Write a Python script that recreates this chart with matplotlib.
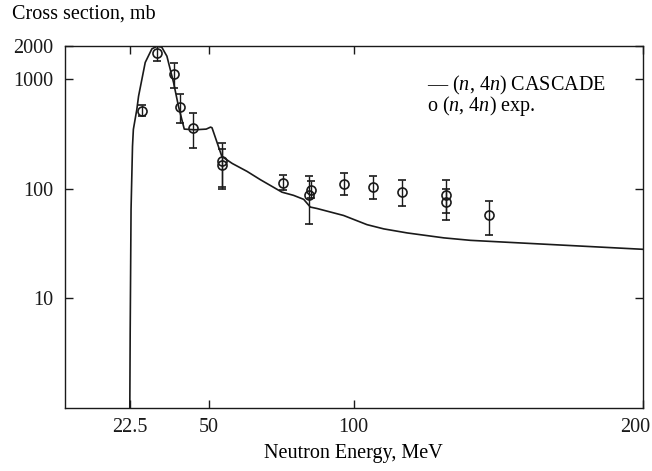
import matplotlib
matplotlib.use("Agg")
import matplotlib.pyplot as plt
import matplotlib.transforms as mtransforms
import numpy as np

# CASCADE calculation (n,4n)
curve_e = [22.55, 22.7, 23.0, 23.5, 23.8, 25.0, 25.6, 27.9, 30.2, 31.9, 33.6, 35.4, 37.7,
           39.4, 41.4, 45.0, 49.0, 50.5, 51.0, 54.4, 58.0, 63.1, 67.7, 75.2, 79.2, 82.7,
           85.0, 87.3, 96.5, 104.6, 110.4, 118.5, 131.2, 140.4, 150.8, 175.0, 200.0]
curve_v = [0.8, 5.0, 65, 244, 348, 530, 700, 1420, 1890, 1990, 1960, 1620, 930,
           565, 350, 345, 350, 365, 360, 197, 170, 144, 121, 93, 87, 80,
           68, 66, 57, 47, 43, 39.5, 35.6, 33.8, 32.7, 30.3, 28.0]

# experimental (n,4n)
exp_e = [26.7, 31.9, 37.7, 39.8, 44.4, 54.4, 54.4, 75.4, 84.4, 85.4, 96.5, 106.7,
         116.8, 131.8, 131.8, 146.7]
exp_v = [511, 1722, 1107, 556, 357, 180, 165, 113, 88.5, 98, 111, 103, 94, 88, 76, 57]
exp_lo = [458, 1455, 836, 400, 233, 103, 100, 97, 48, 83, 87, 81, 69, 60, 52, 38]
exp_hi = [577, 1990, 1415, 726, 494, 263, 230, 134, 130, 117, 140, 130, 121, 119, 100, 77]

x_ticks = [22.5, 50, 100, 200]
x_tick_labels = ["22.5", "50", "100", "200"]
y_ticks = [10, 100, 1000, 2000]
y_tick_labels = ["10", "100", "1000", "2000"]

plt.rcParams['font.family'] = ['Liberation Serif', 'DejaVu Serif']
plt.rcParams['mathtext.fontset'] = 'custom'
plt.rcParams['mathtext.it'] = 'Liberation Serif:italic'
plt.rcParams['mathtext.rm'] = 'Liberation Serif'

FS = 14.5
ink = '#1a1a1a'

fig = plt.figure(figsize=(6.52, 4.71), dpi=100)
ax = fig.add_axes([0.099, 0.134, 0.887, 0.768])

ax.plot(curve_e, curve_v, color=ink, lw=1.2)
v = np.array(exp_v)
yerr = [v - np.array(exp_lo), np.array(exp_hi) - v]
ax.errorbar(exp_e, exp_v, yerr=yerr, fmt='o', mfc='none', mec=ink,
            ms=6.5, mew=1.2, ecolor=ink, elinewidth=1.0, capsize=3, capthick=1.0)

ax.set_yscale('log')
ax.set_xlim(0, 200)
ax.set_ylim(1, 2000)
ax.set_xticks(x_ticks)
ax.set_xticklabels(x_tick_labels)
ax.set_yticks(y_ticks)
ax.set_yticklabels(y_tick_labels)
ax.minorticks_off()
ax.tick_params(direction='in', top=True, right=True, length=6, width=1.0,
               labelsize=FS, colors=ink)
ax.tick_params(axis='y', pad=8)
ax.tick_params(axis='x', pad=7)
for s in ax.spines.values():
    s.set_linewidth(1.0)
    s.set_color(ink)

# shift the last x label a little left so it stays in the figure
last = ax.get_xticklabels()[-1]
last.set_transform(last.get_transform() + mtransforms.ScaledTranslation(-8 / 100, 0, fig.dpi_scale_trans))

ax.set_xlabel('Neutron Energy, MeV', fontsize=FS, labelpad=5)
fig.text(0.018, 0.99, 'Cross section, mb', fontsize=FS, va='top', ha='left')

fig.text(0.655, 1 - 96 / 471,
         '— ($n$, 4$n$) CASCADE\no ($n$, 4$n$) exp.',
         fontsize=FS, va='center', ha='left', linespacing=0.85)

fig.savefig('out.png', dpi=100)
